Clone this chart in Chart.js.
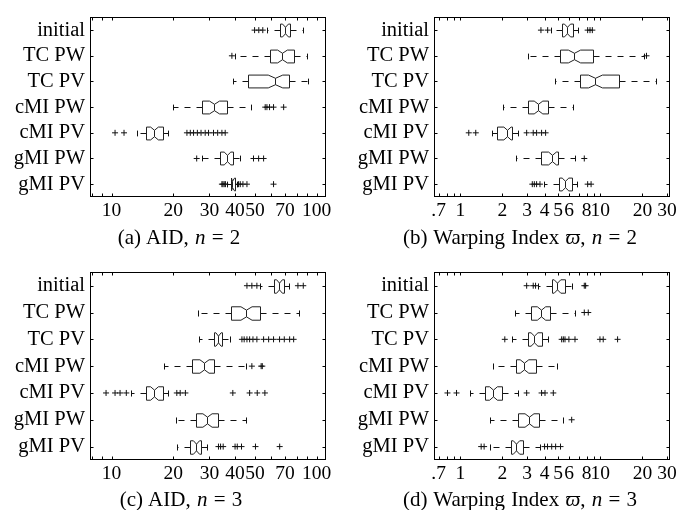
<!DOCTYPE html>
<html>
<head>
<meta charset="utf-8">
<script src="https://cdn.jsdelivr.net/npm/chart.js@4.4.1/dist/chart.umd.min.js"></script>
<style>
  body { margin: 0; background: #fff; }
  #page { position: relative; width: 695px; height: 510px; overflow: hidden; background: #fff; }
  canvas { position: absolute; }
  .cap { position: absolute; width: 340px; text-align: center; white-space: nowrap;
         font-family: 'Liberation Serif', 'Times New Roman', serif; font-size: 21px;
         word-spacing: 1px; line-height: 22px; color: #000; }
</style>
</head>
<body>
<div id="page">
  <canvas id="cA" width="345" height="235" style="left:0;top:0"></canvas>
  <canvas id="cB" width="350" height="235" style="left:345px;top:0"></canvas>
  <canvas id="cC" width="345" height="235" style="left:0;top:255px"></canvas>
  <canvas id="cD" width="350" height="235" style="left:345px;top:255px"></canvas>
  <div class="cap" style="left:9px;top:226px">(a) AID, <i>n</i> = 2</div>
  <div class="cap" style="left:350px;top:226px">(b) Warping Index <i>ϖ</i>, <i>n</i> = 2</div>
  <div class="cap" style="left:11px;top:488px">(c) AID, <i>n</i> = 3</div>
  <div class="cap" style="left:350px;top:488px">(d) Warping Index <i>ϖ</i>, <i>n</i> = 3</div>
</div>
<script>
var rows = ['initial', 'TC PW', 'TC PV', 'cMI PW', 'cMI PV', 'gMI PW', 'gMI PV'];

// each row: [lower whisker, q1, median, q3, upper whisker]
var aidN2Box = [
  [57.2, 65.9, 70.3, 74.3, 85.4],
  [40.1, 58.9, 67.7, 77.2, 89.6],
  [39.3, 46.5, 62.8, 72.9, 90.3],
  [20.0, 27.5, 31.4, 36.5, 47.8],
  [13.3, 14.8, 16.1, 17.9, 18.9],
  [27.5, 33.6, 36.5, 39.3, 42.1],
  [36.5, 38.2, 38.7, 39.8, 40.8]
];
var aidN2Out = [
  [49.8, 52.2, 54.6],
  [38.6],
  [],
  [56.1, 57.2, 58.9, 61.6, 69.0],
  [10.4, 11.5, 23.3, 24.2, 25.1, 26.2, 27.3, 28.6, 29.7, 31.4, 32.9, 34.5, 35.8],
  [26.0, 49.2, 52.1, 55.1],
  [34.5, 34.9, 35.4, 35.9, 41.6, 42.4, 43.7, 45.7, 61.6]
];

var wiN2Box = [
  [4.44, 5.35, 5.81, 6.41, 6.96],
  [3.03, 5.15, 6.52, 8.91, 20.5],
  [4.75, 7.16, 9.17, 13.6, 24.9],
  [2.03, 3.06, 3.57, 4.21, 6.41],
  [1.68, 1.82, 2.14, 2.33, 2.60],
  [2.49, 3.75, 4.50, 5.01, 6.59],
  [3.98, 5.10, 5.60, 6.25, 6.78]
];
var wiN2Out = [
  [3.77, 4.21, 8.13, 8.45, 8.78],
  [21.4],
  [],
  [],
  [1.15, 1.29, 2.98, 3.32, 3.51, 3.81, 4.07],
  [7.69],
  [3.27, 3.38, 3.51, 3.71, 8.13, 8.6]
];

var aidN3Box = [
  [53.0, 61.6, 65.2, 69.0, 73.5],
  [26.3, 38.3, 45.3, 52.7, 81.6],
  [26.8, 31.4, 32.9, 34.5, 37.9],
  [18.1, 24.8, 28.3, 31.6, 45.3],
  [12.5, 14.8, 16.1, 17.8, 18.8],
  [20.6, 25.7, 29.1, 33.2, 45.3],
  [20.8, 24.0, 25.8, 27.2, 29.2]
];
var aidN3Out = [
  [45.7, 48.3, 51.1, 81.0, 86.0],
  [],
  [43.2, 44.3, 45.7, 47.1, 48.9, 51.1, 55.1, 58.3, 61.6, 65.9, 69.5, 73.8, 77.2],
  [48.3, 53.6, 54.3],
  [9.4, 10.4, 11.0, 11.8, 20.8, 21.6, 22.9, 39.0, 47.1, 51.3, 55.9],
  [],
  [33.2, 34.0, 35.0, 40.0, 41.0, 43.0, 50.3, 66.0]
];

var wiN3Box = [
  [3.57, 4.49, 4.88, 5.60, 6.31],
  [2.46, 3.20, 3.77, 4.37, 6.60],
  [2.33, 3.03, 3.38, 3.81, 4.21],
  [1.70, 2.49, 2.87, 3.45, 4.93],
  [1.17, 1.50, 1.72, 1.98, 2.60],
  [1.63, 2.60, 3.10, 3.67, 5.44],
  [1.63, 2.29, 2.50, 2.82, 3.70]
];
var wiN3Out = [
  [2.98, 3.32, 3.45, 7.69, 7.86],
  [7.69, 8.21],
  [2.08, 5.30, 5.45, 5.60, 5.97, 6.60, 9.95, 10.5, 13.3],
  [],
  [0.81, 0.94, 2.98, 3.81, 4.03, 4.62],
  [6.25],
  [1.41, 1.48, 4.0, 4.2, 4.5, 4.8, 5.2]
];

var aidTicks = [10, 20, 30, 40, 50, 70, 100];
var aidTickLabels = ['10', '20', '30', '40', '50', '70', '100'];
var aidMinor = [8, 9, 10, 20, 30, 40, 50, 60, 70, 80, 90, 100];
var aidRange = [7.85, 111];

var wiTicks = [0.7, 1, 2, 3, 4, 5, 6, 8, 10, 20, 30];
var wiTickLabels = ['.7', '1', '2', '3', '4', '5', '6', '8', '10', '20', '30'];
var wiMinor = [0.7, 0.8, 0.9, 1, 2, 3, 4, 5, 6, 7, 8, 9, 10, 20, 30];
var wiRange = [0.649, 31.5];

var tickFont = { family: "'Liberation Serif', 'Times New Roman', serif", size: 19.5 };
var rowFont = { family: "'Liberation Serif', 'Times New Roman', serif", size: 20.5 };

function boxPlugin(boxes) {
  return {
    id: 'boxes',
    beforeDatasetsDraw: function (chart) {
      var ctx = chart.ctx, xs = chart.scales.x, ys = chart.scales.y;
      var step = Math.abs(ys.getPixelForValue(1) - ys.getPixelForValue(0));
      var h = step * 0.25;
      var X = function (v) { return Math.round(xs.getPixelForValue(v)) + 0.5; };
      ctx.save();
      ctx.lineWidth = 1;
      boxes.forEach(function (b, i) {
        var y = Math.round(ys.getPixelForValue(i)) + 0.5;
        var lo = X(b[0]), q1 = X(b[1]), md = X(b[2]), q3 = X(b[3]), hi = X(b[4]);
        // whiskers
        ctx.strokeStyle = '#111';
        ctx.setLineDash([6, 6]);
        ctx.beginPath();
        ctx.moveTo(q1, y); ctx.lineTo(lo, y);
        ctx.moveTo(q3, y); ctx.lineTo(hi, y);
        ctx.stroke();
        ctx.setLineDash([]);
        ctx.beginPath();
        ctx.moveTo(lo, y - h * 0.45); ctx.lineTo(lo, y + h * 0.45);
        ctx.moveTo(hi, y - h * 0.45); ctx.lineTo(hi, y + h * 0.45);
        ctx.stroke();
        // notched box
        var n = 0.14 * (q3 - q1) + 1.5;
        var nl = Math.max(q1, md - n), nr = Math.min(q3, md + n);
        ctx.strokeStyle = '#222';
        ctx.beginPath();
        ctx.moveTo(q1, y - h);
        ctx.lineTo(nl, y - h);
        ctx.lineTo(md, y - h / 2);
        ctx.lineTo(nr, y - h);
        ctx.lineTo(q3, y - h);
        ctx.lineTo(q3, y + h);
        ctx.lineTo(nr, y + h);
        ctx.lineTo(md, y + h / 2);
        ctx.lineTo(nl, y + h);
        ctx.lineTo(q1, y + h);
        ctx.closePath();
        ctx.stroke();
        ctx.beginPath();
        ctx.moveTo(md, y - h / 2); ctx.lineTo(md, y + h / 2);
        ctx.stroke();
      });
      ctx.restore();
    }
  };
}

function framePlugin(minor) {
  return {
    id: 'frame',
    afterDraw: function (chart) {
      var a = chart.chartArea, ctx = chart.ctx, xs = chart.scales.x, ys = chart.scales.y;
      var l = Math.round(a.left) + 0.5, r = Math.round(a.right) - 0.5;
      var t = Math.round(a.top) + 0.5, b = Math.round(a.bottom) - 0.5;
      ctx.save();
      ctx.strokeStyle = '#000';
      ctx.lineWidth = 1;
      ctx.strokeRect(l, t, r - l, b - t);
      ctx.beginPath();
      minor.forEach(function (v) {
        var px = Math.round(xs.getPixelForValue(v)) + 0.5;
        ctx.moveTo(px, t); ctx.lineTo(px, t + 3);
        ctx.moveTo(px, b); ctx.lineTo(px, b - 3);
      });
      rows.forEach(function (name, i) {
        var py = Math.round(ys.getPixelForValue(i)) + 0.5;
        ctx.moveTo(l, py); ctx.lineTo(l + 3, py);
        ctx.moveTo(r, py); ctx.lineTo(r - 3, py);
      });
      ctx.stroke();
      ctx.restore();
    }
  };
}

function makeChart(id, boxes, outliers, ticks, tickLabels, minor, range, area) {
  var canvas = document.getElementById(id);
  var pts = [];
  outliers.forEach(function (list, i) {
    list.forEach(function (v) { pts.push({ x: v, y: rows[i] }); });
  });
  return new Chart(canvas.getContext('2d'), {
    type: 'scatter',
    data: {
      datasets: [{
        data: pts,
        pointStyle: 'cross',
        pointRadius: 3,
        borderColor: '#111',
        borderWidth: 1
      }]
    },
    options: {
      responsive: false,
      devicePixelRatio: 1,
      animation: false,
      events: [],
      layout: { padding: { left: 0, top: area.top, right: canvas.width - area.right, bottom: 0 } },
      plugins: { legend: { display: false }, tooltip: { enabled: false } },
      scales: {
        x: {
          type: 'logarithmic',
          min: range[0],
          max: range[1],
          bounds: 'data',
          afterBuildTicks: function (s) {
            s.ticks = ticks.map(function (v) { return { value: v }; });
          },
          afterFit: function (s) { s.height = canvas.height - area.bottom; },
          grid: { display: false, drawTicks: false },
          border: { display: false },
          ticks: {
            autoSkip: false, maxRotation: 0, padding: 2, color: '#000', font: tickFont,
            callback: function (v, i) { return tickLabels[i]; }
          }
        },
        y: {
          type: 'category',
          labels: rows,
          offset: true,
          afterFit: function (s) { s.width = area.left; },
          grid: { display: false, drawTicks: false },
          border: { display: false },
          ticks: { autoSkip: false, padding: 5, color: '#000', font: rowFont }
        }
      }
    },
    plugins: [boxPlugin(boxes), framePlugin(minor)]
  });
}

makeChart('cA', aidN2Box, aidN2Out, aidTicks, aidTickLabels, aidMinor, aidRange,
  { left: 90, right: 326, top: 4.5, bottom: 197 });
makeChart('cB', wiN2Box, wiN2Out, wiTicks, wiTickLabels, wiMinor, wiRange,
  { left: 89, right: 325, top: 4.5, bottom: 197 });
makeChart('cC', aidN3Box, aidN3Out, aidTicks, aidTickLabels, aidMinor, aidRange,
  { left: 90, right: 326, top: 12, bottom: 205 });
makeChart('cD', wiN3Box, wiN3Out, wiTicks, wiTickLabels, wiMinor, wiRange,
  { left: 89, right: 325, top: 12, bottom: 205 });
</script>
</body>
</html>
